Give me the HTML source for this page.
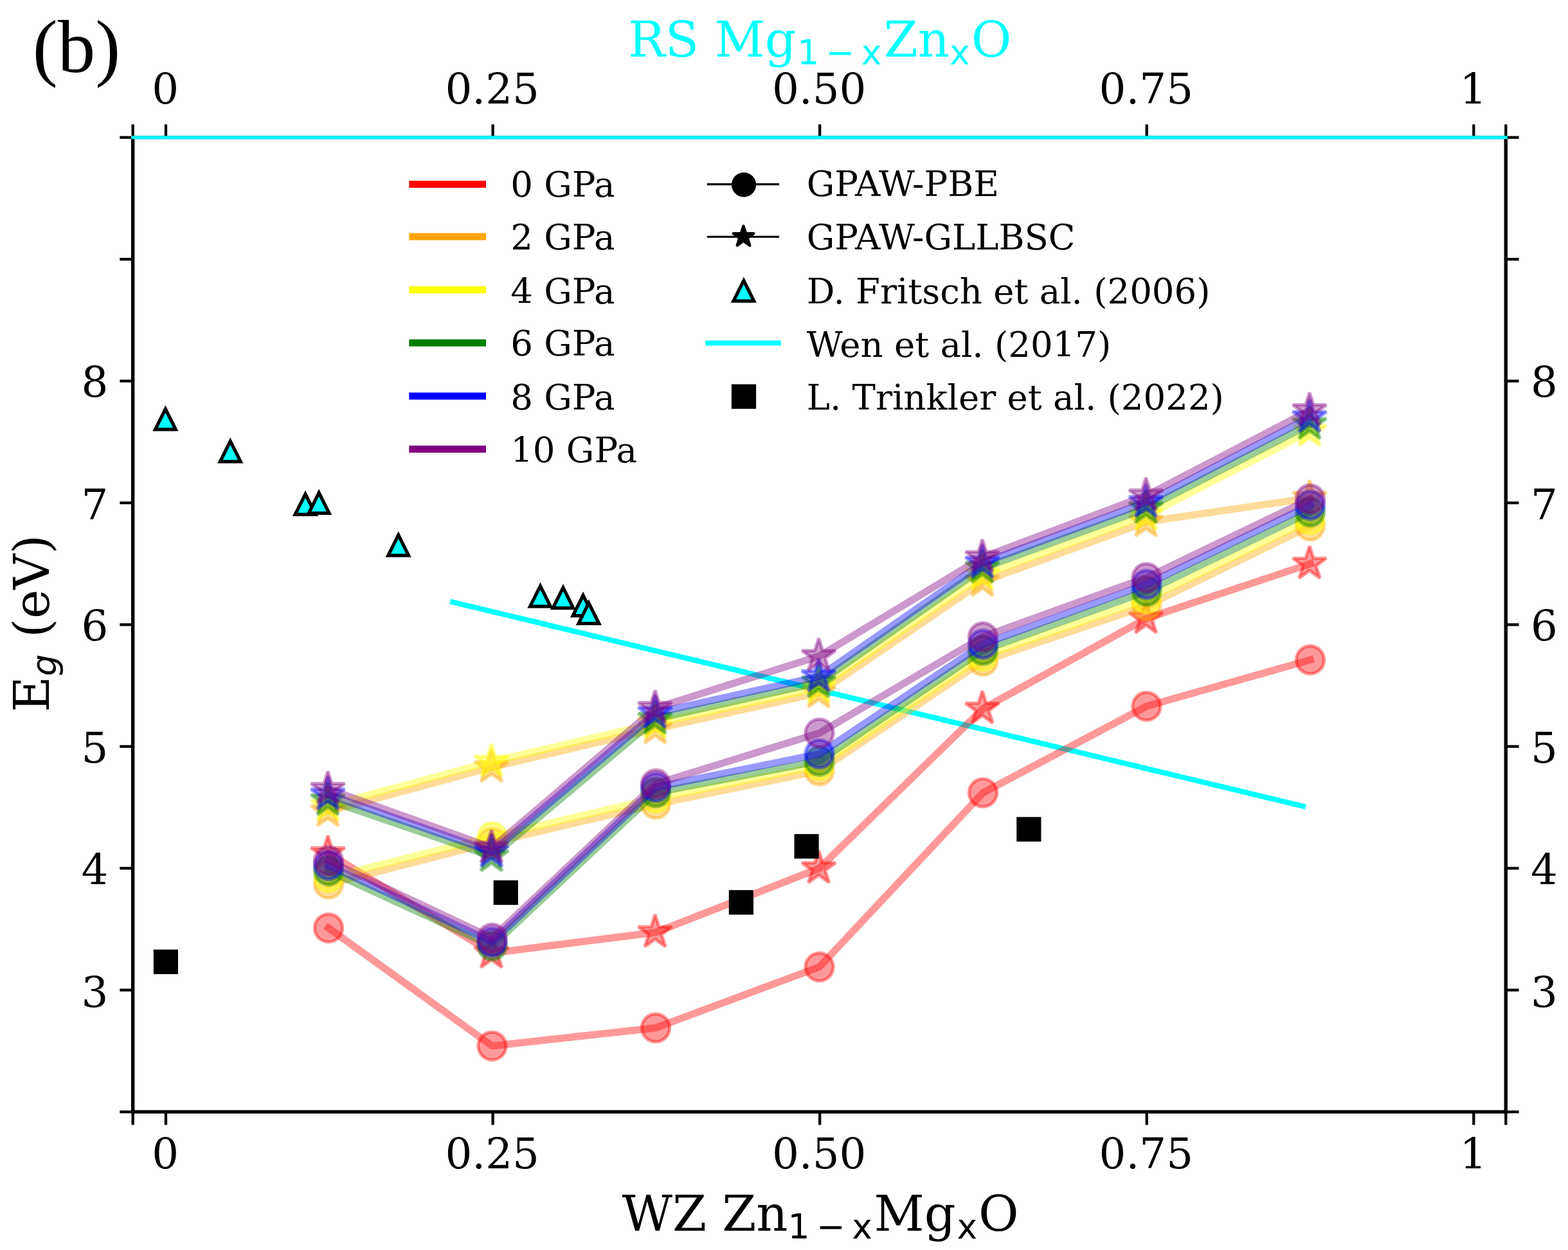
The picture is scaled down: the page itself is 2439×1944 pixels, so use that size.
<!DOCTYPE html>
<html lang="en"><head><meta charset="utf-8"><title>Band gap of ZnMgO under pressure</title>
<style>html,body{margin:0;padding:0;background:#fff}svg{display:block}text{font-family:"DejaVu Serif", "Liberation Serif", serif;fill:#000}.tk{font-size:65.8px}.lab{font-size:75px}.leg{font-size:54.5px}.sub{font-family:"DejaVu Sans", "Liberation Sans", sans-serif}</style></head><body>
<svg xmlns="http://www.w3.org/2000/svg" width="2439" height="1944" viewBox="0 0 2439 1944">
<rect width="2439" height="1944" fill="#fff"/>
<line x1="700.35" y1="935.48" x2="2030.89" y2="1254.72" stroke="#00ffff" stroke-width="8.3" stroke-linecap="butt"/>
<g fill="none" stroke-linejoin="round" stroke-linecap="square">
<g stroke="#ff0000" fill="#ff0000">
<polyline points="511,1443.16 765.5,1626.72 1020,1598.49 1274.5,1503.78 1529,1232.89 1783.5,1098.39 2038,1026.22" stroke-width="11.3" stroke-opacity="0.4" fill="none"/>
<circle cx="511" cy="1443.16" r="21.65" stroke-width="5.2" stroke-opacity="0.4" fill-opacity="0.4"/>
<circle cx="765.5" cy="1626.72" r="21.65" stroke-width="5.2" stroke-opacity="0.4" fill-opacity="0.4"/>
<circle cx="1020" cy="1598.49" r="21.65" stroke-width="5.2" stroke-opacity="0.4" fill-opacity="0.4"/>
<circle cx="1274.5" cy="1503.78" r="21.65" stroke-width="5.2" stroke-opacity="0.4" fill-opacity="0.4"/>
<circle cx="1529" cy="1232.89" r="21.65" stroke-width="5.2" stroke-opacity="0.4" fill-opacity="0.4"/>
<circle cx="1783.5" cy="1098.39" r="21.65" stroke-width="5.2" stroke-opacity="0.4" fill-opacity="0.4"/>
<circle cx="2038" cy="1026.22" r="21.65" stroke-width="5.2" stroke-opacity="0.4" fill-opacity="0.4"/>
</g>
<g stroke="#ff0000" fill="#ff0000">
<polyline points="511,1327.23 765.5,1482.18 1020,1449.98 1274.5,1350.34 1529,1102.18 1783.5,961.62 2038,876.76" stroke-width="11.3" stroke-opacity="0.4" fill="none"/>
<path d="M510 1299.63 L503.8 1318.7 L483.75 1318.7 L499.97 1330.48 L493.78 1349.56 L510 1337.77 L526.22 1349.56 L520.03 1330.48 L536.25 1318.7 L516.2 1318.7 Z" stroke-width="5.2" stroke-linejoin="bevel" stroke-opacity="0.4" fill-opacity="0.4"/>
<path d="M764.5 1454.58 L758.3 1473.65 L738.25 1473.65 L754.47 1485.44 L748.28 1504.51 L764.5 1492.72 L780.72 1504.51 L774.53 1485.44 L790.75 1473.65 L770.7 1473.65 Z" stroke-width="5.2" stroke-linejoin="bevel" stroke-opacity="0.4" fill-opacity="0.4"/>
<path d="M1019 1422.38 L1012.8 1441.45 L992.75 1441.45 L1008.97 1453.24 L1002.78 1472.31 L1019 1460.52 L1035.22 1472.31 L1029.03 1453.24 L1045.25 1441.45 L1025.2 1441.45 Z" stroke-width="5.2" stroke-linejoin="bevel" stroke-opacity="0.4" fill-opacity="0.4"/>
<path d="M1273.5 1322.74 L1267.3 1341.81 L1247.25 1341.81 L1263.47 1353.6 L1257.28 1372.67 L1273.5 1360.88 L1289.72 1372.67 L1283.53 1353.6 L1299.75 1341.81 L1279.7 1341.81 Z" stroke-width="5.2" stroke-linejoin="bevel" stroke-opacity="0.4" fill-opacity="0.4"/>
<path d="M1528 1074.58 L1521.8 1093.65 L1501.75 1093.65 L1517.97 1105.44 L1511.78 1124.51 L1528 1112.72 L1544.22 1124.51 L1538.03 1105.44 L1554.25 1093.65 L1534.2 1093.65 Z" stroke-width="5.2" stroke-linejoin="bevel" stroke-opacity="0.4" fill-opacity="0.4"/>
<path d="M1782.5 934.02 L1776.3 953.1 L1756.25 953.1 L1772.47 964.88 L1766.28 983.95 L1782.5 972.17 L1798.72 983.95 L1792.53 964.88 L1808.75 953.1 L1788.7 953.1 Z" stroke-width="5.2" stroke-linejoin="bevel" stroke-opacity="0.4" fill-opacity="0.4"/>
<path d="M2037 849.16 L2030.8 868.23 L2010.75 868.23 L2026.97 880.02 L2020.78 899.09 L2037 887.3 L2053.22 899.09 L2047.03 880.02 L2063.25 868.23 L2043.2 868.23 Z" stroke-width="5.2" stroke-linejoin="bevel" stroke-opacity="0.4" fill-opacity="0.4"/>
</g>
<g stroke="#ffa500" fill="#ffa500">
<polyline points="511,1374.96 765.5,1309.99 1020,1250.7 1274.5,1198.79 1529,1028.3 1783.5,942.11 2038,818.04" stroke-width="11.3" stroke-opacity="0.4" fill="none"/>
<circle cx="511" cy="1374.96" r="21.65" stroke-width="5.2" stroke-opacity="0.4" fill-opacity="0.4"/>
<circle cx="765.5" cy="1309.99" r="21.65" stroke-width="5.2" stroke-opacity="0.4" fill-opacity="0.4"/>
<circle cx="1020" cy="1250.7" r="21.65" stroke-width="5.2" stroke-opacity="0.4" fill-opacity="0.4"/>
<circle cx="1274.5" cy="1198.79" r="21.65" stroke-width="5.2" stroke-opacity="0.4" fill-opacity="0.4"/>
<circle cx="1529" cy="1028.3" r="21.65" stroke-width="5.2" stroke-opacity="0.4" fill-opacity="0.4"/>
<circle cx="1783.5" cy="942.11" r="21.65" stroke-width="5.2" stroke-opacity="0.4" fill-opacity="0.4"/>
<circle cx="2038" cy="818.04" r="21.65" stroke-width="5.2" stroke-opacity="0.4" fill-opacity="0.4"/>
</g>
<g stroke="#ffa500" fill="#ffa500">
<polyline points="511,1261.87 765.5,1193.11 1020,1133.44 1274.5,1077.37 1529,904.42 1783.5,811.41 2038,774.28" stroke-width="11.3" stroke-opacity="0.4" fill="none"/>
<path d="M510 1234.27 L503.8 1253.34 L483.75 1253.34 L499.97 1265.13 L493.78 1284.2 L510 1272.42 L526.22 1284.2 L520.03 1265.13 L536.25 1253.34 L516.2 1253.34 Z" stroke-width="5.2" stroke-linejoin="bevel" stroke-opacity="0.4" fill-opacity="0.4"/>
<path d="M764.5 1165.51 L758.3 1184.58 L738.25 1184.58 L754.47 1196.37 L748.28 1215.44 L764.5 1203.65 L780.72 1215.44 L774.53 1196.37 L790.75 1184.58 L770.7 1184.58 Z" stroke-width="5.2" stroke-linejoin="bevel" stroke-opacity="0.4" fill-opacity="0.4"/>
<path d="M1019 1105.84 L1012.8 1124.91 L992.75 1124.91 L1008.97 1136.7 L1002.78 1155.77 L1019 1143.98 L1035.22 1155.77 L1029.03 1136.7 L1045.25 1124.91 L1025.2 1124.91 Z" stroke-width="5.2" stroke-linejoin="bevel" stroke-opacity="0.4" fill-opacity="0.4"/>
<path d="M1273.5 1049.77 L1267.3 1068.84 L1247.25 1068.84 L1263.47 1080.62 L1257.28 1099.7 L1273.5 1087.91 L1289.72 1099.7 L1283.53 1080.62 L1299.75 1068.84 L1279.7 1068.84 Z" stroke-width="5.2" stroke-linejoin="bevel" stroke-opacity="0.4" fill-opacity="0.4"/>
<path d="M1528 876.82 L1521.8 895.89 L1501.75 895.89 L1517.97 907.67 L1511.78 926.75 L1528 914.96 L1544.22 926.75 L1538.03 907.67 L1554.25 895.89 L1534.2 895.89 Z" stroke-width="5.2" stroke-linejoin="bevel" stroke-opacity="0.4" fill-opacity="0.4"/>
<path d="M1782.5 783.81 L1776.3 802.88 L1756.25 802.88 L1772.47 814.66 L1766.28 833.73 L1782.5 821.95 L1798.72 833.73 L1792.53 814.66 L1808.75 802.88 L1788.7 802.88 Z" stroke-width="5.2" stroke-linejoin="bevel" stroke-opacity="0.4" fill-opacity="0.4"/>
<path d="M2037 746.68 L2030.8 765.75 L2010.75 765.75 L2026.97 777.53 L2020.78 796.61 L2037 784.82 L2053.22 796.61 L2047.03 777.53 L2063.25 765.75 L2043.2 765.75 Z" stroke-width="5.2" stroke-linejoin="bevel" stroke-opacity="0.4" fill-opacity="0.4"/>
</g>
<g stroke="#ffff00" fill="#ffff00">
<polyline points="511,1365.11 765.5,1301.27 1020,1241.6 1274.5,1191.22 1529,1020.73 1783.5,931.69 2038,808.56" stroke-width="11.3" stroke-opacity="0.4" fill="none"/>
<circle cx="511" cy="1365.11" r="21.65" stroke-width="5.2" stroke-opacity="0.4" fill-opacity="0.4"/>
<circle cx="765.5" cy="1301.27" r="21.65" stroke-width="5.2" stroke-opacity="0.4" fill-opacity="0.4"/>
<circle cx="1020" cy="1241.6" r="21.65" stroke-width="5.2" stroke-opacity="0.4" fill-opacity="0.4"/>
<circle cx="1274.5" cy="1191.22" r="21.65" stroke-width="5.2" stroke-opacity="0.4" fill-opacity="0.4"/>
<circle cx="1529" cy="1020.73" r="21.65" stroke-width="5.2" stroke-opacity="0.4" fill-opacity="0.4"/>
<circle cx="1783.5" cy="931.69" r="21.65" stroke-width="5.2" stroke-opacity="0.4" fill-opacity="0.4"/>
<circle cx="2038" cy="808.56" r="21.65" stroke-width="5.2" stroke-opacity="0.4" fill-opacity="0.4"/>
</g>
<g stroke="#ffff00" fill="#ffff00">
<polyline points="511,1253.16 765.5,1184.59 1020,1124.91 1274.5,1069.98 1529,894.19 1783.5,801.37 2038,670.47" stroke-width="11.3" stroke-opacity="0.4" fill="none"/>
<path d="M510 1225.56 L503.8 1244.63 L483.75 1244.63 L499.97 1256.42 L493.78 1275.49 L510 1263.7 L526.22 1275.49 L520.03 1256.42 L536.25 1244.63 L516.2 1244.63 Z" stroke-width="5.2" stroke-linejoin="bevel" stroke-opacity="0.4" fill-opacity="0.4"/>
<path d="M764.5 1156.99 L758.3 1176.06 L738.25 1176.06 L754.47 1187.84 L748.28 1206.91 L764.5 1195.13 L780.72 1206.91 L774.53 1187.84 L790.75 1176.06 L770.7 1176.06 Z" stroke-width="5.2" stroke-linejoin="bevel" stroke-opacity="0.4" fill-opacity="0.4"/>
<path d="M1019 1097.31 L1012.8 1116.39 L992.75 1116.39 L1008.97 1128.17 L1002.78 1147.24 L1019 1135.46 L1035.22 1147.24 L1029.03 1128.17 L1045.25 1116.39 L1025.2 1116.39 Z" stroke-width="5.2" stroke-linejoin="bevel" stroke-opacity="0.4" fill-opacity="0.4"/>
<path d="M1273.5 1042.38 L1267.3 1061.45 L1247.25 1061.45 L1263.47 1073.24 L1257.28 1092.31 L1273.5 1080.52 L1289.72 1092.31 L1283.53 1073.24 L1299.75 1061.45 L1279.7 1061.45 Z" stroke-width="5.2" stroke-linejoin="bevel" stroke-opacity="0.4" fill-opacity="0.4"/>
<path d="M1528 866.59 L1521.8 885.66 L1501.75 885.66 L1517.97 897.44 L1511.78 916.52 L1528 904.73 L1544.22 916.52 L1538.03 897.44 L1554.25 885.66 L1534.2 885.66 Z" stroke-width="5.2" stroke-linejoin="bevel" stroke-opacity="0.4" fill-opacity="0.4"/>
<path d="M1782.5 773.77 L1776.3 792.84 L1756.25 792.84 L1772.47 804.62 L1766.28 823.69 L1782.5 811.91 L1798.72 823.69 L1792.53 804.62 L1808.75 792.84 L1788.7 792.84 Z" stroke-width="5.2" stroke-linejoin="bevel" stroke-opacity="0.4" fill-opacity="0.4"/>
<path d="M2037 642.87 L2030.8 661.94 L2010.75 661.94 L2026.97 673.73 L2020.78 692.8 L2037 681.01 L2053.22 692.8 L2047.03 673.73 L2063.25 661.94 L2043.2 661.94 Z" stroke-width="5.2" stroke-linejoin="bevel" stroke-opacity="0.4" fill-opacity="0.4"/>
</g>
<g stroke="#008000" fill="#008000">
<polyline points="511,1354.13 765.5,1471.01 1020,1232.51 1274.5,1183.64 1529,1011.26 1783.5,919.57 2038,796.25" stroke-width="11.3" stroke-opacity="0.4" fill="none"/>
<circle cx="511" cy="1354.13" r="21.65" stroke-width="5.2" stroke-opacity="0.4" fill-opacity="0.4"/>
<circle cx="765.5" cy="1471.01" r="21.65" stroke-width="5.2" stroke-opacity="0.4" fill-opacity="0.4"/>
<circle cx="1020" cy="1232.51" r="21.65" stroke-width="5.2" stroke-opacity="0.4" fill-opacity="0.4"/>
<circle cx="1274.5" cy="1183.64" r="21.65" stroke-width="5.2" stroke-opacity="0.4" fill-opacity="0.4"/>
<circle cx="1529" cy="1011.26" r="21.65" stroke-width="5.2" stroke-opacity="0.4" fill-opacity="0.4"/>
<circle cx="1783.5" cy="919.57" r="21.65" stroke-width="5.2" stroke-opacity="0.4" fill-opacity="0.4"/>
<circle cx="2038" cy="796.25" r="21.65" stroke-width="5.2" stroke-opacity="0.4" fill-opacity="0.4"/>
</g>
<g stroke="#008000" fill="#008000">
<polyline points="511,1244.63 765.5,1331.96 1020,1118.09 1274.5,1061.27 1529,883.2 1783.5,790.38 2038,659.67" stroke-width="11.3" stroke-opacity="0.4" fill="none"/>
<path d="M510 1217.03 L503.8 1236.11 L483.75 1236.11 L499.97 1247.89 L493.78 1266.96 L510 1255.18 L526.22 1266.96 L520.03 1247.89 L536.25 1236.11 L516.2 1236.11 Z" stroke-width="5.2" stroke-linejoin="bevel" stroke-opacity="0.4" fill-opacity="0.4"/>
<path d="M764.5 1304.36 L758.3 1323.43 L738.25 1323.43 L754.47 1335.22 L748.28 1354.29 L764.5 1342.5 L780.72 1354.29 L774.53 1335.22 L790.75 1323.43 L770.7 1323.43 Z" stroke-width="5.2" stroke-linejoin="bevel" stroke-opacity="0.4" fill-opacity="0.4"/>
<path d="M1019 1090.49 L1012.8 1109.57 L992.75 1109.57 L1008.97 1121.35 L1002.78 1140.42 L1019 1128.64 L1035.22 1140.42 L1029.03 1121.35 L1045.25 1109.57 L1025.2 1109.57 Z" stroke-width="5.2" stroke-linejoin="bevel" stroke-opacity="0.4" fill-opacity="0.4"/>
<path d="M1273.5 1033.67 L1267.3 1052.74 L1247.25 1052.74 L1263.47 1064.52 L1257.28 1083.59 L1273.5 1071.81 L1289.72 1083.59 L1283.53 1064.52 L1299.75 1052.74 L1279.7 1052.74 Z" stroke-width="5.2" stroke-linejoin="bevel" stroke-opacity="0.4" fill-opacity="0.4"/>
<path d="M1528 855.6 L1521.8 874.67 L1501.75 874.67 L1517.97 886.46 L1511.78 905.53 L1528 893.74 L1544.22 905.53 L1538.03 886.46 L1554.25 874.67 L1534.2 874.67 Z" stroke-width="5.2" stroke-linejoin="bevel" stroke-opacity="0.4" fill-opacity="0.4"/>
<path d="M1782.5 762.78 L1776.3 781.85 L1756.25 781.85 L1772.47 793.64 L1766.28 812.71 L1782.5 800.92 L1798.72 812.71 L1792.53 793.64 L1808.75 781.85 L1788.7 781.85 Z" stroke-width="5.2" stroke-linejoin="bevel" stroke-opacity="0.4" fill-opacity="0.4"/>
<path d="M2037 632.07 L2030.8 651.14 L2010.75 651.14 L2026.97 662.93 L2020.78 682 L2037 670.21 L2053.22 682 L2047.03 662.93 L2063.25 651.14 L2043.2 651.14 Z" stroke-width="5.2" stroke-linejoin="bevel" stroke-opacity="0.4" fill-opacity="0.4"/>
</g>
<g stroke="#0000ff" fill="#0000ff">
<polyline points="511,1345.79 765.5,1464.94 1020,1224.37 1274.5,1172.46 1529,1001.78 1783.5,908.77 2038,785.64" stroke-width="11.3" stroke-opacity="0.4" fill="none"/>
<circle cx="511" cy="1345.79" r="21.65" stroke-width="5.2" stroke-opacity="0.4" fill-opacity="0.4"/>
<circle cx="765.5" cy="1464.94" r="21.65" stroke-width="5.2" stroke-opacity="0.4" fill-opacity="0.4"/>
<circle cx="1020" cy="1224.37" r="21.65" stroke-width="5.2" stroke-opacity="0.4" fill-opacity="0.4"/>
<circle cx="1274.5" cy="1172.46" r="21.65" stroke-width="5.2" stroke-opacity="0.4" fill-opacity="0.4"/>
<circle cx="1529" cy="1001.78" r="21.65" stroke-width="5.2" stroke-opacity="0.4" fill-opacity="0.4"/>
<circle cx="1783.5" cy="908.77" r="21.65" stroke-width="5.2" stroke-opacity="0.4" fill-opacity="0.4"/>
<circle cx="2038" cy="785.64" r="21.65" stroke-width="5.2" stroke-opacity="0.4" fill-opacity="0.4"/>
</g>
<g stroke="#0000ff" fill="#0000ff">
<polyline points="511,1235.92 765.5,1324.76 1020,1108.81 1274.5,1051.98 1529,875.24 1783.5,781.1 2038,648.87" stroke-width="11.3" stroke-opacity="0.4" fill="none"/>
<path d="M510 1208.32 L503.8 1227.39 L483.75 1227.39 L499.97 1239.18 L493.78 1258.25 L510 1246.46 L526.22 1258.25 L520.03 1239.18 L536.25 1227.39 L516.2 1227.39 Z" stroke-width="5.2" stroke-linejoin="bevel" stroke-opacity="0.4" fill-opacity="0.4"/>
<path d="M764.5 1297.16 L758.3 1316.24 L738.25 1316.24 L754.47 1328.02 L748.28 1347.09 L764.5 1335.31 L780.72 1347.09 L774.53 1328.02 L790.75 1316.24 L770.7 1316.24 Z" stroke-width="5.2" stroke-linejoin="bevel" stroke-opacity="0.4" fill-opacity="0.4"/>
<path d="M1019 1081.21 L1012.8 1100.28 L992.75 1100.28 L1008.97 1112.07 L1002.78 1131.14 L1019 1119.35 L1035.22 1131.14 L1029.03 1112.07 L1045.25 1100.28 L1025.2 1100.28 Z" stroke-width="5.2" stroke-linejoin="bevel" stroke-opacity="0.4" fill-opacity="0.4"/>
<path d="M1273.5 1024.38 L1267.3 1043.45 L1247.25 1043.45 L1263.47 1055.24 L1257.28 1074.31 L1273.5 1062.53 L1289.72 1074.31 L1283.53 1055.24 L1299.75 1043.45 L1279.7 1043.45 Z" stroke-width="5.2" stroke-linejoin="bevel" stroke-opacity="0.4" fill-opacity="0.4"/>
<path d="M1528 847.64 L1521.8 866.72 L1501.75 866.72 L1517.97 878.5 L1511.78 897.57 L1528 885.79 L1544.22 897.57 L1538.03 878.5 L1554.25 866.72 L1534.2 866.72 Z" stroke-width="5.2" stroke-linejoin="bevel" stroke-opacity="0.4" fill-opacity="0.4"/>
<path d="M1782.5 753.5 L1776.3 772.57 L1756.25 772.57 L1772.47 784.35 L1766.28 803.43 L1782.5 791.64 L1798.72 803.43 L1792.53 784.35 L1808.75 772.57 L1788.7 772.57 Z" stroke-width="5.2" stroke-linejoin="bevel" stroke-opacity="0.4" fill-opacity="0.4"/>
<path d="M2037 621.27 L2030.8 640.34 L2010.75 640.34 L2026.97 652.13 L2020.78 671.2 L2037 659.42 L2053.22 671.2 L2047.03 652.13 L2063.25 640.34 L2043.2 640.34 Z" stroke-width="5.2" stroke-linejoin="bevel" stroke-opacity="0.4" fill-opacity="0.4"/>
</g>
<g stroke="#800080" fill="#800080">
<polyline points="511,1338.78 765.5,1458.88 1020,1219.06 1274.5,1140.07 1529,990.42 1783.5,898.35 2038,775.98" stroke-width="11.3" stroke-opacity="0.4" fill="none"/>
<circle cx="511" cy="1338.78" r="21.65" stroke-width="5.2" stroke-opacity="0.4" fill-opacity="0.4"/>
<circle cx="765.5" cy="1458.88" r="21.65" stroke-width="5.2" stroke-opacity="0.4" fill-opacity="0.4"/>
<circle cx="1020" cy="1219.06" r="21.65" stroke-width="5.2" stroke-opacity="0.4" fill-opacity="0.4"/>
<circle cx="1274.5" cy="1140.07" r="21.65" stroke-width="5.2" stroke-opacity="0.4" fill-opacity="0.4"/>
<circle cx="1529" cy="990.42" r="21.65" stroke-width="5.2" stroke-opacity="0.4" fill-opacity="0.4"/>
<circle cx="1783.5" cy="898.35" r="21.65" stroke-width="5.2" stroke-opacity="0.4" fill-opacity="0.4"/>
<circle cx="2038" cy="775.98" r="21.65" stroke-width="5.2" stroke-opacity="0.4" fill-opacity="0.4"/>
</g>
<g stroke="#800080" fill="#800080">
<polyline points="511,1227.21 765.5,1318.51 1020,1101.24 1274.5,1020.35 1529,866.53 1783.5,770.68 2038,638.08" stroke-width="11.3" stroke-opacity="0.4" fill="none"/>
<path d="M510 1199.61 L503.8 1218.68 L483.75 1218.68 L499.97 1230.46 L493.78 1249.54 L510 1237.75 L526.22 1249.54 L520.03 1230.46 L536.25 1218.68 L516.2 1218.68 Z" stroke-width="5.2" stroke-linejoin="bevel" stroke-opacity="0.4" fill-opacity="0.4"/>
<path d="M764.5 1290.91 L758.3 1309.98 L738.25 1309.98 L754.47 1321.77 L748.28 1340.84 L764.5 1329.06 L780.72 1340.84 L774.53 1321.77 L790.75 1309.98 L770.7 1309.98 Z" stroke-width="5.2" stroke-linejoin="bevel" stroke-opacity="0.4" fill-opacity="0.4"/>
<path d="M1019 1073.64 L1012.8 1092.71 L992.75 1092.71 L1008.97 1104.49 L1002.78 1123.56 L1019 1111.78 L1035.22 1123.56 L1029.03 1104.49 L1045.25 1092.71 L1025.2 1092.71 Z" stroke-width="5.2" stroke-linejoin="bevel" stroke-opacity="0.4" fill-opacity="0.4"/>
<path d="M1273.5 992.75 L1267.3 1011.82 L1247.25 1011.82 L1263.47 1023.61 L1257.28 1042.68 L1273.5 1030.89 L1289.72 1042.68 L1283.53 1023.61 L1299.75 1011.82 L1279.7 1011.82 Z" stroke-width="5.2" stroke-linejoin="bevel" stroke-opacity="0.4" fill-opacity="0.4"/>
<path d="M1528 838.93 L1521.8 858 L1501.75 858 L1517.97 869.79 L1511.78 888.86 L1528 877.07 L1544.22 888.86 L1538.03 869.79 L1554.25 858 L1534.2 858 Z" stroke-width="5.2" stroke-linejoin="bevel" stroke-opacity="0.4" fill-opacity="0.4"/>
<path d="M1782.5 743.08 L1776.3 762.15 L1756.25 762.15 L1772.47 773.94 L1766.28 793.01 L1782.5 781.22 L1798.72 793.01 L1792.53 773.94 L1808.75 762.15 L1788.7 762.15 Z" stroke-width="5.2" stroke-linejoin="bevel" stroke-opacity="0.4" fill-opacity="0.4"/>
<path d="M2037 610.48 L2030.8 629.55 L2010.75 629.55 L2026.97 641.33 L2020.78 660.4 L2037 648.62 L2053.22 660.4 L2047.03 641.33 L2063.25 629.55 L2043.2 629.55 Z" stroke-width="5.2" stroke-linejoin="bevel" stroke-opacity="0.4" fill-opacity="0.4"/>
</g>
</g>
<g fill="#00ffff" stroke="#000" stroke-width="5.2" stroke-linejoin="miter" stroke-miterlimit="10">
<path d="M257.4 636 L241.5 667.8 L273.3 667.8 Z"/>
<path d="M358.3 686 L342.4 717.8 L374.2 717.8 Z"/>
<path d="M475 768.4 L459.1 800.2 L490.9 800.2 Z"/>
<path d="M496.1 766.3 L480.2 798.1 L512 798.1 Z"/>
<path d="M619.7 832 L603.8 863.8 L635.6 863.8 Z"/>
<path d="M840.4 911.4 L824.5 943.2 L856.3 943.2 Z"/>
<path d="M875.9 913.8 L860 945.6 L891.8 945.6 Z"/>
<path d="M907 925.9 L891.1 957.7 L922.9 957.7 Z"/>
<path d="M915.8 937.9 L899.9 969.7 L931.7 969.7 Z"/>
</g>
<g fill="#000">
<rect x="238.8" y="1476.72" width="38.2" height="38.2"/>
<rect x="767.64" y="1369.12" width="38.2" height="38.2"/>
<rect x="1133.76" y="1384.28" width="38.2" height="38.2"/>
<rect x="1235.46" y="1297.14" width="38.2" height="38.2"/>
<rect x="1581.24" y="1270.62" width="38.2" height="38.2"/>
</g>
<g stroke="#000" stroke-width="5.2" fill="none" stroke-linecap="butt">
<line x1="206.65" y1="211.15" x2="206.65" y2="1731.8" stroke-width="5.4"/>
<line x1="2342.3" y1="211.15" x2="2342.3" y2="1731.8" stroke-width="5.4"/>
<line x1="204.05" y1="1729.2" x2="2344.9" y2="1729.2"/>
<line x1="204.05" y1="213.75" x2="2344.9" y2="213.75"/>
</g>
<g stroke="#000" stroke-width="4.3" fill="none" stroke-linecap="butt">
<line x1="258" y1="1729.2" x2="258" y2="1749.5"/>
<line x1="258" y1="213.75" x2="258" y2="193.45"/>
<line x1="766.58" y1="1729.2" x2="766.58" y2="1749.5"/>
<line x1="766.58" y1="213.75" x2="766.58" y2="193.45"/>
<line x1="1275.15" y1="1729.2" x2="1275.15" y2="1749.5"/>
<line x1="1275.15" y1="213.75" x2="1275.15" y2="193.45"/>
<line x1="1783.72" y1="1729.2" x2="1783.72" y2="1749.5"/>
<line x1="1783.72" y1="213.75" x2="1783.72" y2="193.45"/>
<line x1="2292.3" y1="1729.2" x2="2292.3" y2="1749.5"/>
<line x1="2292.3" y1="213.75" x2="2292.3" y2="193.45"/>
<line x1="206.65" y1="1729.2" x2="206.65" y2="1749.5"/>
<line x1="206.65" y1="213.75" x2="206.65" y2="193.45"/>
<line x1="2342.3" y1="1729.2" x2="2342.3" y2="1749.5"/>
<line x1="2342.3" y1="213.75" x2="2342.3" y2="193.45"/>
<line x1="206.65" y1="1729.2" x2="186.35" y2="1729.2"/>
<line x1="2342.3" y1="1729.2" x2="2362.6" y2="1729.2"/>
<line x1="206.65" y1="1539.77" x2="186.35" y2="1539.77"/>
<line x1="2342.3" y1="1539.77" x2="2362.6" y2="1539.77"/>
<line x1="206.65" y1="1350.34" x2="186.35" y2="1350.34"/>
<line x1="2342.3" y1="1350.34" x2="2362.6" y2="1350.34"/>
<line x1="206.65" y1="1160.91" x2="186.35" y2="1160.91"/>
<line x1="2342.3" y1="1160.91" x2="2362.6" y2="1160.91"/>
<line x1="206.65" y1="971.48" x2="186.35" y2="971.48"/>
<line x1="2342.3" y1="971.48" x2="2362.6" y2="971.48"/>
<line x1="206.65" y1="782.04" x2="186.35" y2="782.04"/>
<line x1="2342.3" y1="782.04" x2="2362.6" y2="782.04"/>
<line x1="206.65" y1="592.61" x2="186.35" y2="592.61"/>
<line x1="2342.3" y1="592.61" x2="2362.6" y2="592.61"/>
<line x1="206.65" y1="403.18" x2="186.35" y2="403.18"/>
<line x1="2342.3" y1="403.18" x2="2362.6" y2="403.18"/>
<line x1="206.65" y1="213.75" x2="186.35" y2="213.75"/>
<line x1="2342.3" y1="213.75" x2="2362.6" y2="213.75"/>
</g>
<line x1="204.05" y1="213.75" x2="2344.9" y2="213.75" stroke="#00ffff" stroke-width="5.2"/>
<g class="tk" text-anchor="middle">
<text x="257.1" y="1816.9">0</text>
<text x="257.1" y="161.2">0</text>
<text x="765.68" y="1816.9">0.25</text>
<text x="765.68" y="161.2">0.25</text>
<text x="1274.25" y="1816.9">0.50</text>
<text x="1274.25" y="161.2">0.50</text>
<text x="1782.82" y="1816.9">0.75</text>
<text x="1782.82" y="161.2">0.75</text>
<text x="2291.4" y="1816.9">1</text>
<text x="2291.4" y="161.2">1</text>
</g>
<g class="tk">
<text x="168.4" y="1565.67" text-anchor="end">3</text>
<text x="2381" y="1565.67" text-anchor="start">3</text>
<text x="168.4" y="1375.04" text-anchor="end">4</text>
<text x="2381" y="1375.04" text-anchor="start">4</text>
<text x="168.4" y="1185.61" text-anchor="end">5</text>
<text x="2381" y="1185.61" text-anchor="start">5</text>
<text x="168.4" y="996.18" text-anchor="end">6</text>
<text x="2381" y="996.18" text-anchor="start">6</text>
<text x="168.4" y="807.54" text-anchor="end">7</text>
<text x="2381" y="807.54" text-anchor="start">7</text>
<text x="168.4" y="617.31" text-anchor="end">8</text>
<text x="2381" y="617.31" text-anchor="start">8</text>
</g>
<text x="967.4" y="1913.8" font-size="76.4">WZ Zn</text><text x="1225.6" y="1925.7" class="sub" font-size="53.5">1</text><text x="1270.1" y="1925.7" class="sub" font-size="53.5">−</text><text x="1325.3" y="1925.7" class="sub" font-size="53.5">x</text><text x="1359.6" y="1913.8" font-size="76.4">Mg</text><text x="1488.6" y="1925.7" class="sub" font-size="53.5">x</text><text x="1522" y="1913.8" font-size="76.4">O</text>
<text x="977.3" y="87.7" font-size="76.4" style="fill:#00ffff">RS Mg</text><text x="1240.3" y="99.7" class="sub" font-size="53.5" style="fill:#00ffff">1</text><text x="1284.6" y="99.7" class="sub" font-size="53.5" style="fill:#00ffff">−</text><text x="1339.7" y="99.7" class="sub" font-size="53.5" style="fill:#00ffff">x</text><text x="1374.8" y="87.7" font-size="76.4" style="fill:#00ffff">Zn</text><text x="1477.1" y="99.7" class="sub" font-size="53.5" style="fill:#00ffff">x</text><text x="1510.7" y="87.7" font-size="76.4" style="fill:#00ffff">O</text>
<text transform="translate(76.2 1107.5) rotate(-90)" font-size="76.4">E</text><text transform="translate(87 1051.4) rotate(-90)" class="sub" font-style="italic" font-size="53.5">g</text><text transform="translate(76.2 991.7) rotate(-90)" font-size="76.4">(eV)</text>
<text x="50.8" y="111.6" style="font-family:'Liberation Serif', 'DejaVu Serif', serif;font-size:117px">(b)</text>
<g stroke-linecap="butt">
<line x1="636.3" y1="286.6" x2="756" y2="286.6" stroke="#ff0000" stroke-width="11"/>
<line x1="636.3" y1="368.1" x2="756" y2="368.1" stroke="#ffa500" stroke-width="11"/>
<line x1="636.3" y1="450.7" x2="756" y2="450.7" stroke="#ffff00" stroke-width="11"/>
<line x1="636.3" y1="533.3" x2="756" y2="533.3" stroke="#008000" stroke-width="11"/>
<line x1="636.3" y1="616.1" x2="756" y2="616.1" stroke="#0000ff" stroke-width="11"/>
<line x1="636.3" y1="698.5" x2="756" y2="698.5" stroke="#800080" stroke-width="11"/>
<line x1="1099.8" y1="286.6" x2="1212" y2="286.6" stroke="#000" stroke-width="3.1"/>
<circle cx="1157" cy="287.3" r="19.1" fill="#000"/>
<line x1="1099.8" y1="368.2" x2="1212" y2="368.2" stroke="#000" stroke-width="3.1"/>
<path d="M1156.5 351.53 L1152.76 363.05 L1140.65 363.05 L1150.44 370.17 L1146.7 381.69 L1156.5 374.57 L1166.3 381.69 L1162.56 370.17 L1172.35 363.05 L1160.24 363.05 Z" fill="#000" stroke="#000" stroke-width="4.3" stroke-linejoin="round"/>
<path d="M1156.8 436.3 L1140.9 468.1 L1172.7 468.1 Z" fill="#00ffff" stroke="#000" stroke-width="5.2" stroke-linejoin="miter" stroke-miterlimit="10"/>
<line x1="1097.2" y1="533.5" x2="1214.7" y2="533.5" stroke="#00ffff" stroke-width="8"/>
<rect x="1137.9" y="597.6" width="38.2" height="38.2" fill="#000"/>
</g>
<g class="leg">
<text x="794.2" y="305.5">0 GPa</text>
<text x="794.2" y="387.5">2 GPa</text>
<text x="794.2" y="471.6">4 GPa</text>
<text x="794.2" y="553">6 GPa</text>
<text x="794.2" y="636.7">8 GPa</text>
<text x="794.2" y="719">10 GPa</text>
<text x="1254.7" y="305.2">GPAW-PBE</text>
<text x="1254.7" y="387.7">GPAW-GLLBSC</text>
<text x="1254.7" y="472.3">D. Fritsch et al. (2006)</text>
<text x="1254.7" y="555.1">Wen et al. (2017)</text>
<text x="1254.7" y="637">L. Trinkler et al. (2022)</text>
</g>
</svg></body></html>
